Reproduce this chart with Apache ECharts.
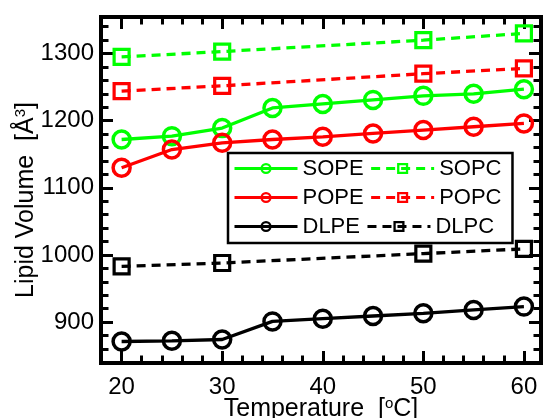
<!DOCTYPE html>
<html>
<head>
<meta charset="utf-8">
<script src="https://cdn.jsdelivr.net/npm/echarts@6/dist/echarts.min.js"></script>
<style>
html,body{margin:0;padding:0;background:#fff;}
#c{width:543px;height:418px;}
</style>
</head>
<body>
<div id="c"></div>
<script>
// ---- data ----
const tempsPE = [20, 25, 30, 35, 40, 45, 50, 55, 60];
const tempsPC = [20, 30, 50, 60];
const SOPE = [1172, 1177, 1189, 1219, 1225, 1231, 1237, 1240, 1247];
const POPE = [1130, 1157, 1167, 1172, 1176, 1181, 1186, 1191, 1196];
const DLPE = [871, 872, 874, 901, 905, 909, 913, 918, 923];
const SOPC = [1295, 1303, 1320, 1330];
const POPC = [1244, 1252, 1270, 1278];
const DLPC = [983, 988, 1002, 1009];
const xMajor = [20, 30, 40, 50, 60];
const xMinor = [22, 24, 26, 28, 32, 34, 36, 38, 42, 44, 46, 48, 52, 54, 56, 58];
const yMajor = [900, 1000, 1100, 1200, 1300];
const yMinor = [860, 880, 920, 940, 960, 980, 1020, 1040, 1060, 1080, 1120, 1140, 1160, 1180, 1220, 1240, 1260, 1280, 1320, 1340];

const FONT = '"Liberation Sans", Arial, Helvetica, sans-serif';
const GREEN = '#00ff00', RED = '#ff0000', BLACK = '#000000';
const X_MIN = 17.95, X_MAX = 61.7, Y_MIN = 839, Y_MAX = 1354.5;

function pairs(xs, ys) { return xs.map((x, i) => [x, ys[i]]); }

function xAx(pos, vals, len, showLine, labels) {
  return {
    type: 'value', position: pos, min: X_MIN, max: X_MAX,
    axisLine: { show: showLine, onZero: false, lineStyle: { color: BLACK, width: 4, cap: 'square' } },
    axisTick: { show: true, inside: true, length: len, customValues: vals, lineStyle: { color: BLACK, width: 3 } },
    axisLabel: labels ? { show: true, customValues: vals, formatter: v => String(v), fontSize: 24, fontFamily: FONT, color: BLACK, margin: 12 } : { show: false },
    splitLine: { show: false }
  };
}
function yAx(pos, vals, len, showLine, labels) {
  return {
    type: 'value', position: pos, min: Y_MIN, max: Y_MAX,
    axisLine: { show: showLine, onZero: false, lineStyle: { color: BLACK, width: 4, cap: 'square' } },
    axisTick: { show: true, inside: true, length: len, customValues: vals, lineStyle: { color: BLACK, width: 3 } },
    axisLabel: labels ? { show: true, customValues: vals, formatter: v => String(v), fontSize: 24, fontFamily: FONT, color: BLACK, margin: 7 } : { show: false },
    splitLine: { show: false }
  };
}

const xAxes = [
  xAx('bottom', xMajor, 12, true, true),
  xAx('top', xMajor, 12, true, false),
  xAx('bottom', xMinor, 7.5, false, false),
  xAx('top', xMinor, 7.5, false, false)
];
xAxes[0].name = 'Temperature  [{sup|o}C]';
xAxes[0].nameLocation = 'middle';
xAxes[0].nameGap = 33;
xAxes[0].nameMoveOverlap = false;
xAxes[0].nameTextStyle = {
  fontSize: 25, fontFamily: FONT, color: BLACK, lineHeight: 26,
  rich: { sup: { fontSize: 15, fontFamily: FONT, color: BLACK, lineHeight: 14, verticalAlign: 'top' } }
};

const yAxes = [
  yAx('left', yMajor, 12, true, true),
  yAx('right', yMajor, 12, true, false),
  yAx('left', yMinor, 7.5, false, false),
  yAx('right', yMinor, 7.5, false, false)
];
yAxes[0].name = 'Lipid Volume  [Å{sup|3}]';
yAxes[0].nameLocation = 'middle';
yAxes[0].nameGap = 62;
yAxes[0].nameMoveOverlap = false;
yAxes[0].nameTextStyle = {
  fontSize: 25, fontFamily: FONT, color: BLACK, lineHeight: 26, padding: [0, 20, 0, 0],
  rich: { sup: { fontSize: 15, fontFamily: FONT, color: BLACK, lineHeight: 14, verticalAlign: 'top' } }
};

function mkSeries(name, xs, ys, color, dashed) {
  return {
    name: name, type: 'line', xAxisIndex: 0, yAxisIndex: 0,
    data: pairs(xs, ys),
    symbol: dashed ? 'rect' : 'circle',
    symbolSize: dashed ? 15 : 17,
    lineStyle: { color: color, width: 3.3, type: dashed ? [9, 6] : 'solid' },
    itemStyle: { color: 'rgba(0,0,0,0)', borderColor: color, borderWidth: dashed ? 3.2 : 3.5 },
    emphasis: { disabled: true },
    animation: false
  };
}

const option = {
  animation: false,
  backgroundColor: '#fff',
  grid: { left: 101, right: 2, top: 17, bottom: 55, containLabel: false, outerBoundsMode: 'none' },
  xAxis: xAxes,
  yAxis: yAxes,
  legend: {
    data: ['SOPE', 'SOPC', 'POPE', 'POPC', 'DLPE', 'DLPC'],
    orient: 'horizontal',
    left: 228, top: 153, width: 275,
    padding: [4, 11, 5, 5],
    itemGap: 6,
    itemWidth: 63, itemHeight: 11,
    borderColor: BLACK, borderWidth: 2.5,
    backgroundColor: '#fff',
    selectedMode: false,
    textStyle: { fontSize: 22, fontFamily: FONT, color: BLACK, lineHeight: 23 },
    itemStyle: { borderWidth: 2.3 },
    lineStyle: { width: 3 }
  },
  series: [
    mkSeries('SOPE', tempsPE, SOPE, GREEN, false),
    mkSeries('POPE', tempsPE, POPE, RED, false),
    mkSeries('DLPE', tempsPE, DLPE, BLACK, false),
    mkSeries('SOPC', tempsPC, SOPC, GREEN, true),
    mkSeries('POPC', tempsPC, POPC, RED, true),
    mkSeries('DLPC', tempsPC, DLPC, BLACK, true)
  ]
};

const chart = echarts.init(document.getElementById('c'), null, { renderer: 'canvas' });
chart.setOption(option);
</script>
</body>
</html>
